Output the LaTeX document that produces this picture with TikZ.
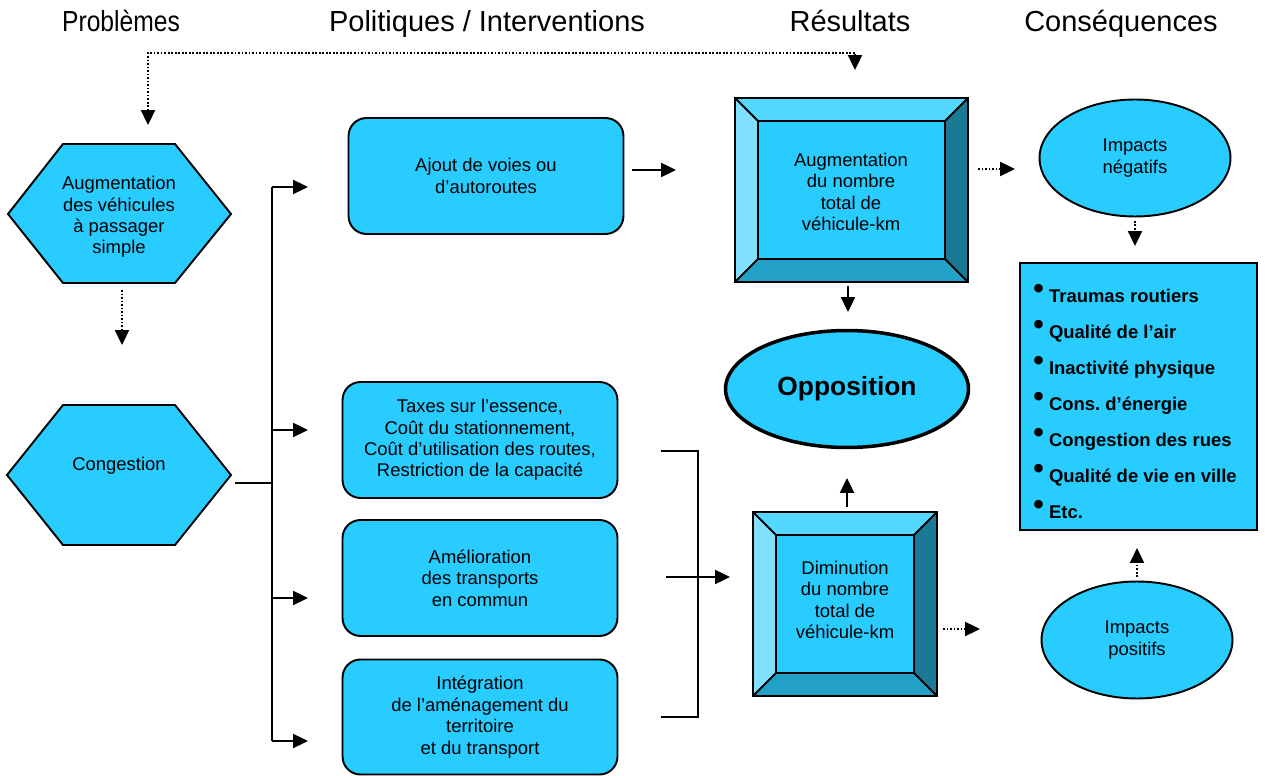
\documentclass[tikz,border=0pt]{standalone}
\usepackage{fontspec}
\setmainfont{Liberation Sans}
\usepackage{tikz}
\usetikzlibrary{arrows.meta,shapes.geometric,positioning}
\definecolor{boxblue}{RGB}{41,204,255}
\definecolor{beveltop}{RGB}{85,216,255}
\definecolor{bevelleft}{RGB}{128,224,255}
\definecolor{bevelright}{RGB}{26,122,150}
\definecolor{bevelbottom}{RGB}{34,160,200}
\frenchspacing
\tikzset{
  head/.style={anchor=base, font=\fontsize{16.5}{19}\selectfont},
  boxtext/.style={align=center, font=\fontsize{10.5}{12.2}\selectfont},
  policy/.style={boxtext, draw, line width=1.1pt, fill=boxblue, rounded corners=0.36cm,
    minimum width=5.5cm, minimum height=2.32cm},
  hexa/.style={draw, line width=1.1pt, fill=boxblue},
  bevel/.style={line width=1.1pt},
  impact/.style={boxtext, ellipse, draw, line width=1.1pt, fill=boxblue,
    minimum width=3.82cm, minimum height=2.34cm},
  oppo/.style={ellipse, draw, line width=2pt, fill=boxblue, minimum width=4.86cm,
    minimum height=2.34cm, font=\bfseries\fontsize{15}{18}\selectfont},
  conslist/.style={draw, line width=1.1pt, fill=boxblue, minimum width=4.74cm, minimum height=5.34cm},
  item/.style={anchor=base west, inner sep=0pt, font=\bfseries\fontsize{10.5}{12}\selectfont},
  plain/.style={line width=1.1pt},
  flow/.style={line width=1.1pt, ->},
  dots/.style={line width=1.1pt, ->, dash pattern=on 1pt off 1pt},
}
% boite biseautee : x1, y1, x2, y2, biseau
\newcommand{\bevelbox}[5]{%
  \fill[beveltop] (#1,#2) -- (#3,#2) -- (#3-#5,#2+#5) -- (#1+#5,#2+#5) -- cycle;
  \fill[bevelleft] (#1,#2) -- (#1+#5,#2+#5) -- (#1+#5,#4-#5) -- (#1,#4) -- cycle;
  \fill[bevelright] (#3,#2) -- (#3,#4) -- (#3-#5,#4-#5) -- (#3-#5,#2+#5) -- cycle;
  \fill[bevelbottom] (#1,#4) -- (#3,#4) -- (#3-#5,#4-#5) -- (#1+#5,#4-#5) -- cycle;
  \draw[bevel] (#1,#2) rectangle (#3,#4);
  \draw[bevel, fill=boxblue] (#1+#5,#2+#5) rectangle (#3-#5,#4-#5);
  \draw[bevel] (#1,#2) -- (#1+#5,#2+#5) (#3,#2) -- (#3-#5,#2+#5)
    (#1,#4) -- (#1+#5,#4-#5) (#3,#4) -- (#3-#5,#4-#5);
}

\begin{document}
\begin{tikzpicture}[x=0.02cm, y=-0.02cm, >={Triangle[length=8.5pt,width=8pt]}]
\useasboundingbox (0,0) rectangle (1265,776);

% en-tetes
\node[head] (hprob) at (121,32) {\scalebox{0.85}[1]{Problèmes}};
\node[head] (hpol) at (487,32) {Politiques / Interventions};
\node[head] (hres) at (850,32) {Résultats};
\node[head] (hcons) at (1121,32) {Conséquences};

% problemes (hexagones)
\draw[hexa] (8,214) -- (63,144) -- (175,144) -- (231,214) -- (175,283) -- (63,283) -- cycle;
\node[boxtext] (solo) at (119,217) {Augmentation\\des véhicules\\à passager\\simple};
\draw[hexa] (7,475) -- (63,405) -- (175,405) -- (231,475) -- (175,545) -- (63,545) -- cycle;
\node[boxtext] (cong) at (119,466) {Congestion};

\coordinate (solo-out) at (122,290);
\coordinate (cong-in) at (122,345);
\draw[dots] (solo-out) -- (cong-in);

% retour pointille vers les problemes
\coordinate (prob-in) at (148,125);
\coordinate (res-in) at (855,70);
\draw[dots, <->] (prob-in) -- ++(0,-72) -| (res-in);

% politiques / interventions
\node[policy] (ajout) at (486,176) {Ajout de voies ou\\d’autoroutes};
\node[policy] (taxes) at (480,440) {Taxes sur l’essence,\\Coût du stationnement,\\Coût d’utilisation des routes,\\Restriction de la capacité};
\node[policy] (transp) at (480,578) {Amélioration\\des transports\\en commun};
\node[policy, minimum height=2.3cm] (integ) at (480,717) {Intégration\\de l’aménagement du\\territoire\\et du transport};

% tronc vers les politiques
\coordinate (cong-out) at (235,483);
\coordinate (trunk) at (272,483);
\coordinate (in-ajout) at (308,187);
\coordinate (in-taxes) at (308,430);
\coordinate (in-transp) at (308,598);
\coordinate (in-integ) at (308,741);
\draw[plain] (cong-out) -- (trunk);
\draw[plain] (in-ajout -| trunk) -- (in-integ -| trunk);
\foreach \p in {ajout,taxes,transp,integ}
  \draw[flow] (in-\p -| trunk) -- (in-\p);

% resultats
\bevelbox{735}{98}{968}{282}{23}
\node[boxtext] (augm) at (851,192) {Augmentation\\du nombre\\total de\\véhicule-km};
\bevelbox{753}{512}{937}{696}{23}
\node[boxtext] (dimin) at (845,600) {Diminution\\du nombre\\total de\\véhicule-km};
\node[oppo] (oppo) at (847,389) {Opposition};

\coordinate (ajout-out) at (632,170);
\coordinate (augm-in) at (676,170);
\draw[flow] (ajout-out) -- (augm-in);

% accolade des trois politiques
\coordinate (brk-a) at (661,451);
\coordinate (brk-b) at (661,717);
\coordinate (brk-mid) at (666,577);
\coordinate (dimin-in) at (730,577);
\draw[plain] (brk-a) -- ++(37,0) |- (brk-b);
\draw[flow] (brk-mid) -- (dimin-in);

\coordinate (augm-out) at (848,286);
\coordinate (oppo-top) at (848,312);
\draw[flow] (augm-out) -- (oppo-top);
\coordinate (dimin-out) at (847,507);
\coordinate (oppo-bot) at (847,478);
\draw[flow] (dimin-out) -- (oppo-bot);

% consequences
\node[impact] (neg) at (1135,158) {Impacts\\négatifs};
\node[impact] (pos) at (1137,640) {Impacts\\positifs};
\node[conslist] (cons) at (1138.5,396.5) {};
\foreach \t [count=\i] in {Traumas routiers, Qualité de l’air, Inactivité physique, Cons. d’énergie, Congestion des rues, Qualité de vie en ville, Etc.}
  \node[item] (item\i) at (1033, 267+36*\i) {\raisebox{2.5pt}{\fontsize{17}{17}\selectfont •}\hspace{3pt}\t};

\coordinate (augm-right) at (978,169);
\coordinate (neg-in) at (1015,169);
\draw[dots] (augm-right) -- (neg-in);
\coordinate (dimin-right) at (943,629);
\coordinate (pos-in) at (980,629);
\draw[dots] (dimin-right) -- (pos-in);
\draw[dots] ([yshift=-2pt]neg.south) -- ++(0,25);
\draw[dots] ([yshift=2pt]pos.north) -- ++(0,-29);

\end{tikzpicture}
\end{document}
